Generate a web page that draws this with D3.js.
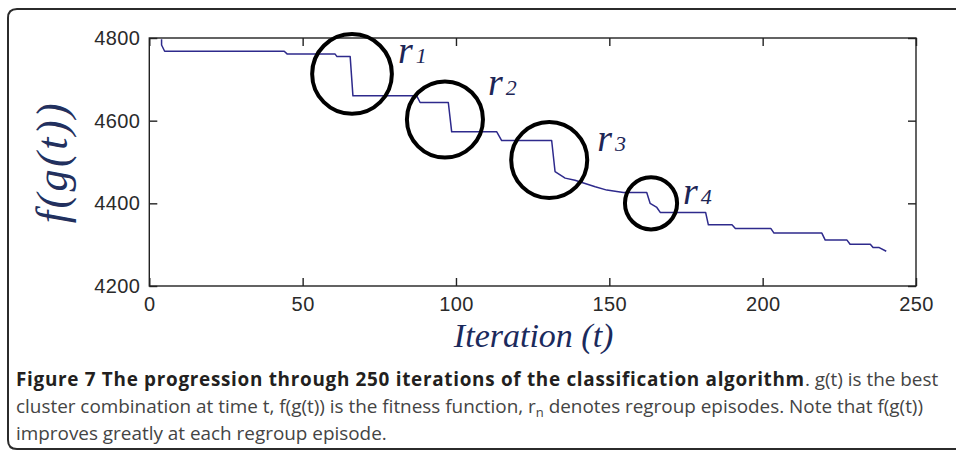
<!DOCTYPE html>
<html>
<head>
<meta charset="utf-8">
<script src="https://cdn.jsdelivr.net/npm/d3@7"></script>
<style>
  html, body { margin: 0; padding: 0; background: #fff; }
  svg { display: block; }
</style>
</head>
<body>
<svg id="chart" width="956" height="452"></svg>
<script>
// ---- data ----
const iterations = [4, 4, 5, 44, 45, 60.6, 61.2, 65.5, 66.4, 87.2, 88.3, 97.5, 98.6, 113.3, 114.9, 131.2, 132.3, 135.6, 138.8, 145.4, 149.2, 154.6, 162.2, 163.3, 165.5, 166.6, 181.4, 182.3, 190, 191.1, 202.7, 203.7, 219.3, 220.4, 227.5, 228.5, 235.1, 236, 238, 240.3];
const fitness    = [4797, 4783, 4768, 4768, 4761, 4761, 4755, 4755, 4660, 4660, 4644, 4644, 4573, 4573, 4552, 4552, 4477, 4461, 4456, 4440, 4432, 4426, 4426, 4400, 4390, 4378, 4378, 4348, 4348, 4339, 4339, 4328, 4328, 4311, 4311, 4301, 4301, 4293, 4293, 4284];
const xTicks = [0, 50, 100, 150, 200, 250];
const yTicks = [4200, 4400, 4600, 4800];
const regroupNames = ["1", "2", "3", "4"];
const regroupIter  = [66.1, 96.4, 130.4, 163.6];
const regroupFit   = [4713, 4603, 4505, 4400];
const regroupSpan  = [13.0, 12.4, 12.4, 8.5]; // circle radius in iterations
const xLabel = "Iteration (t)";
const yLabel = "f(g(t))";

const svg = d3.select("#chart");

// frame around figure
svg.append("path")
  .attr("d", "M 1000 9 L 17 9 Q 8 9 8 18 L 8 440 Q 8 449 17 449 L 1000 449")
  .attr("fill", "none").attr("stroke", "#2b2b2b").attr("stroke-width", 2);

const L = 149.3, R = 916, T = 38, B = 286;
const x = d3.scaleLinear().domain([0, 250]).range([L, R]);
const y = d3.scaleLinear().domain([4200, 4800]).range([B, T]);

// axes box
const g = svg.append("g");
g.append("rect").attr("x", L).attr("y", T).attr("width", R - L).attr("height", B - T)
  .attr("fill", "#fff").attr("stroke", "#222").attr("stroke-width", 1.4);

const tickLen = 8;
const tickFont = "'Liberation Sans', Arial, sans-serif";
const axB = d3.axisBottom(x).tickValues(xTicks).tickSize(-tickLen).tickPadding(11).tickFormat(d3.format("d"));
const axT = d3.axisTop(x).tickValues(xTicks).tickSize(-tickLen).tickFormat("");
const axL = d3.axisLeft(y).tickValues(yTicks).tickSize(-tickLen).tickPadding(9).tickFormat(d3.format("d"));
const axR = d3.axisRight(y).tickValues(yTicks).tickSize(-tickLen).tickFormat("");

function styleAxis(sel) {
  sel.attr("font-family", tickFont).attr("font-size", 20);
  sel.select(".domain").remove();
  sel.selectAll(".tick line").attr("stroke", "#222").attr("stroke-width", 1.4);
  sel.selectAll(".tick text").attr("fill", "#2a2a2a")
    .attr("font-family", tickFont).attr("font-size", 20)
    .style("letter-spacing", "0.4px");
}
g.append("g").attr("transform", `translate(0,${B})`).call(axB).call(styleAxis);
g.append("g").attr("transform", `translate(0,${T})`).call(axT).call(styleAxis);
g.append("g").attr("transform", `translate(${L},0)`).call(axL).call(styleAxis);
g.append("g").attr("transform", `translate(${R},0)`).call(axR).call(styleAxis);

// series line
const pts = iterations.map((d, i) => [d, fitness[i]]);
g.append("path").datum(pts)
  .attr("d", d3.line().x(d => x(d[0])).y(d => y(d[1])))
  .attr("fill", "none").attr("stroke", "#2e2a8c").attr("stroke-width", 1.5)
  .attr("stroke-linejoin", "round");

// regroup circles and labels
const pxPerIter = x(1) - x(0);
const ann = regroupNames.map((n, i) => ({ n, it: regroupIter[i], f: regroupFit[i], r: regroupSpan[i] }));
g.selectAll("circle.rg").data(ann).join("circle").attr("class", "rg")
  .attr("cx", d => x(d.it)).attr("cy", d => y(d.f)).attr("r", d => d.r * pxPerIter)
  .attr("fill", "none").attr("stroke", "#000").attr("stroke-width", 4);

const labOff = [[46, -12], [43, -27], [48, -12], [32, -14]];
const lab = g.selectAll("text.rl").data(ann).join("text").attr("class", "rl")
  .attr("x", (d, i) => x(d.it) + labOff[i][0])
  .attr("y", (d, i) => y(d.f) - d.r * pxPerIter + labOff[i][1] + 41)
  .attr("fill", "#1d2656")
  .style("font-family", "'Liberation Serif', 'Times New Roman', serif")
  .style("font-style", "italic");
lab.append("tspan").text("r").style("font-size", "38px");
lab.append("tspan").text(d => d.n).attr("dx", 3).style("font-size", "22px");

// axis titles
svg.append("text").text(xLabel)
  .attr("x", (x(0) + x(250)) / 2 + 1).attr("y", 347)
  .attr("text-anchor", "middle").attr("fill", "#1b2a5c")
  .style("font-family", "'Liberation Serif', 'Times New Roman', serif")
  .style("font-style", "italic").style("font-size", "34px");

svg.append("text").text(yLabel)
  .attr("transform", `translate(67,${(T + B) / 2}) rotate(-90)`)
  .attr("text-anchor", "middle").attr("fill", "#22305e")
  .style("font-family", "'Liberation Serif', 'Times New Roman', serif")
  .style("font-style", "italic").style("font-size", "44px").style("letter-spacing", "2.5px");

// caption
const cap = svg.append("g")
  .style("font-family", "'Open Sans', 'Noto Sans', sans-serif").style("font-size", "18.9px");
const l1 = cap.append("text").attr("x", 16).attr("y", 386).attr("fill", "#444");
l1.append("tspan").text("Figure 7 The progression through 250 iterations of the classification algorithm")
  .style("font-weight", "bold").style("letter-spacing", "0.7px").attr("fill", "#231f20");
l1.append("tspan").text(". g(t) is the best");
const l2 = cap.append("text").attr("x", 16).attr("y", 413).attr("fill", "#444");
l2.append("tspan").text("cluster combination at time t, f(g(t)) is the fitness function, r");
l2.append("tspan").text("n").style("font-size", "13px").attr("dy", 4);
l2.append("tspan").text(" denotes regroup episodes. Note that f(g(t))").attr("dy", -4);
cap.append("text").attr("x", 16).attr("y", 440).attr("fill", "#444")
  .text("improves greatly at each regroup episode.");
</script>
</body>
</html>
